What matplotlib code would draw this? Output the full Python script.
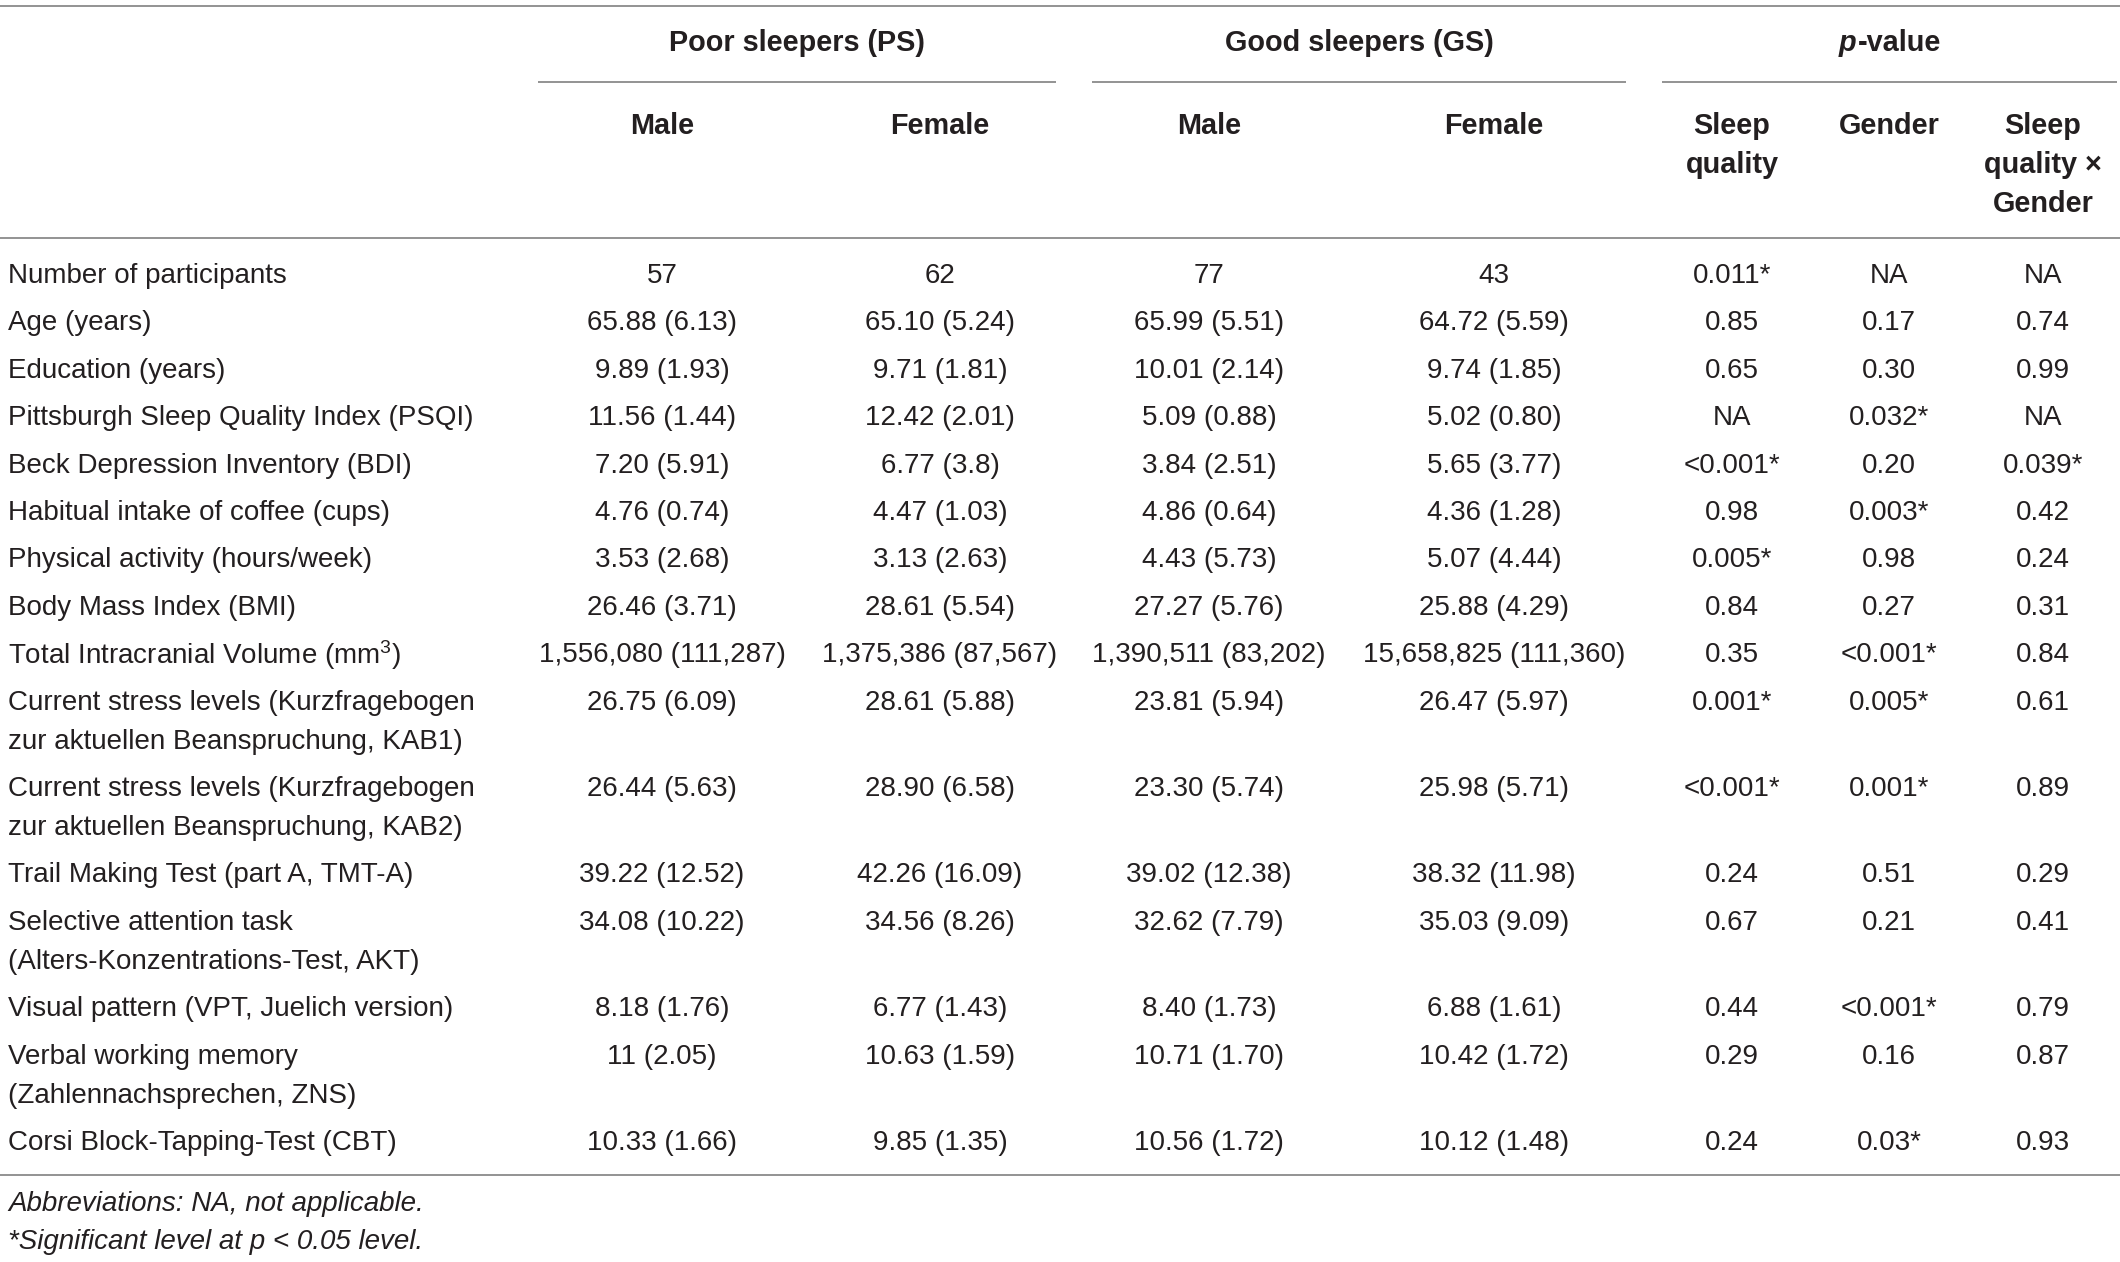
import matplotlib
matplotlib.use("Agg")
import matplotlib.pyplot as plt
from matplotlib import font_manager

# ---------------- data ----------------
row_labels = [
    "Number of participants",
    "Age (years)",
    "Education (years)",
    "Pittsburgh Sleep Quality Index (PSQI)",
    "Beck Depression Inventory (BDI)",
    "Habitual intake of coffee (cups)",
    "Physical activity (hours/week)",
    "Body Mass Index (BMI)",
    "Total Intracranial Volume (mm$^{3}$)",
    "Current stress levels (Kurzfragebogen\nzur aktuellen Beanspruchung, KAB1)",
    "Current stress levels (Kurzfragebogen\nzur aktuellen Beanspruchung, KAB2)",
    "Trail Making Test (part A, TMT-A)",
    "Selective attention task\n(Alters-Konzentrations-Test, AKT)",
    "Visual pattern (VPT, Juelich version)",
    "Verbal working memory\n(Zahlennachsprechen, ZNS)",
    "Corsi Block-Tapping-Test (CBT)",
]
ps_male = ["57", "65.88 (6.13)", "9.89 (1.93)", "11.56 (1.44)", "7.20 (5.91)",
           "4.76 (0.74)", "3.53 (2.68)", "26.46 (3.71)", "1,556,080 (111,287)",
           "26.75 (6.09)", "26.44 (5.63)", "39.22 (12.52)", "34.08 (10.22)",
           "8.18 (1.76)", "11 (2.05)", "10.33 (1.66)"]
ps_female = ["62", "65.10 (5.24)", "9.71 (1.81)", "12.42 (2.01)", "6.77 (3.8)",
             "4.47 (1.03)", "3.13 (2.63)", "28.61 (5.54)", "1,375,386 (87,567)",
             "28.61 (5.88)", "28.90 (6.58)", "42.26 (16.09)", "34.56 (8.26)",
             "6.77 (1.43)", "10.63 (1.59)", "9.85 (1.35)"]
gs_male = ["77", "65.99 (5.51)", "10.01 (2.14)", "5.09 (0.88)", "3.84 (2.51)",
           "4.86 (0.64)", "4.43 (5.73)", "27.27 (5.76)", "1,390,511 (83,202)",
           "23.81 (5.94)", "23.30 (5.74)", "39.02 (12.38)", "32.62 (7.79)",
           "8.40 (1.73)", "10.71 (1.70)", "10.56 (1.72)"]
gs_female = ["43", "64.72 (5.59)", "9.74 (1.85)", "5.02 (0.80)", "5.65 (3.77)",
             "4.36 (1.28)", "5.07 (4.44)", "25.88 (4.29)", "15,658,825 (111,360)",
             "26.47 (5.97)", "25.98 (5.71)", "38.32 (11.98)", "35.03 (9.09)",
             "6.88 (1.61)", "10.42 (1.72)", "10.12 (1.48)"]
p_sleep = ["0.011*", "0.85", "0.65", "NA", "<0.001*", "0.98", "0.005*", "0.84",
           "0.35", "0.001*", "<0.001*", "0.24", "0.67", "0.44", "0.29", "0.24"]
p_gender = ["NA", "0.17", "0.30", "0.032*", "0.20", "0.003*", "0.98", "0.27",
            "<0.001*", "0.005*", "0.001*", "0.51", "0.21", "<0.001*", "0.16", "0.03*"]
p_interaction = ["NA", "0.74", "0.99", "NA", "0.039*", "0.42", "0.24", "0.31",
                 "0.84", "0.61", "0.89", "0.29", "0.41", "0.79", "0.87", "0.93"]

group_headers = ["Poor sleepers (PS)", "Good sleepers (GS)"]
sub_headers = ["Male", "Female", "Male", "Female",
               "Sleep\nquality", "Gender", "Sleep\nquality \u00d7\nGender"]
footnotes = ["Abbreviations: NA, not applicable.",
             "*Significant level at p < 0.05 level."]

# ---------------- style ----------------
avail = {f.name for f in font_manager.fontManager.ttflist}
FAM = "Liberation Sans" if "Liberation Sans" in avail else "DejaVu Sans"
plt.rcParams["font.family"] = [FAM, "DejaVu Sans"]
plt.rcParams["mathtext.fontset"] = "custom"
plt.rcParams["mathtext.rm"] = FAM
plt.rcParams["mathtext.it"] = FAM + ":italic"
plt.rcParams["mathtext.bf"] = FAM + ":bold"

TXT = "#231f20"
LINE = "#808080"
FS = 20
FSB = 20.8
W, H = 2120, 1262

fig = plt.figure(figsize=(W / 100, H / 100), dpi=100)
ax = fig.add_axes([0, 0, 1, 1])
ax.set_xlim(0, W)
ax.set_ylim(H, 0)
ax.axis("off")

col_x = [662, 940, 1209, 1494, 1732, 1889, 2043]
label_x = 8

# horizontal rules
for yy in (6, 238, 1175):
    ax.plot([0, W], [yy, yy], color=LINE, lw=1.2, solid_capstyle="butt")
for x0, x1 in [(538, 1056), (1092, 1626), (1662, 2117)]:
    ax.plot([x0, x1], [82, 82], color=LINE, lw=1.2, solid_capstyle="butt")

# group headers
GY = 43
ax.text((538 + 1056) / 2, GY, group_headers[0], ha="center", va="center",
        fontsize=FSB, fontweight="bold", color=TXT)
ax.text((1092 + 1626) / 2, GY, group_headers[1], ha="center", va="center",
        fontsize=FSB, fontweight="bold", color=TXT)

# p-value header: italic "p" + "-value", centred together
fig.canvas.draw()
r = fig.canvas.get_renderer()
t1 = ax.text(0, GY, "p", ha="left", va="center", fontsize=FSB,
             fontweight="bold", fontstyle="italic", color=TXT)
t2 = ax.text(0, GY, "-value", ha="left", va="center", fontsize=FSB,
             fontweight="bold", color=TXT)
w1 = t1.get_window_extent(r).width
w2 = t2.get_window_extent(r).width
cx = (1662 + 2117) / 2
start = cx - (w1 + w2) / 2
t1.set_x(start)
t2.set_x(start + w1 + 1)

# sub headers (one text per line for exact spacing)
SY = 126
SGAP = 39
for x, s in zip(col_x, sub_headers):
    for k, ln in enumerate(s.split("\n")):
        ax.text(x, SY + k * SGAP, ln, ha="center", va="center", fontsize=FSB,
                fontweight="bold", color=TXT)

# body rows
y = 276
line_gap = 39
row_gap = 47.4
for i, lab in enumerate(row_labels):
    lines = lab.split("\n")
    for k, ln in enumerate(lines):
        ax.text(label_x, y + k * line_gap, ln, ha="left", va="center",
                fontsize=FS, color=TXT)
    for x, col in zip(col_x, [ps_male, ps_female, gs_male, gs_female,
                              p_sleep, p_gender, p_interaction]):
        ax.text(x, y, col[i], ha="center", va="center", fontsize=FS, color=TXT)
    y += (len(lines) - 1) * line_gap + row_gap

# footnotes
ax.text(label_x, 1204, footnotes[0], ha="left", va="center", fontsize=FS,
        fontstyle="italic", color=TXT)
ax.text(label_x, 1242, footnotes[1], ha="left", va="center", fontsize=FS,
        fontstyle="italic", color=TXT)

fig.savefig("out.png", dpi=100, facecolor="white")
